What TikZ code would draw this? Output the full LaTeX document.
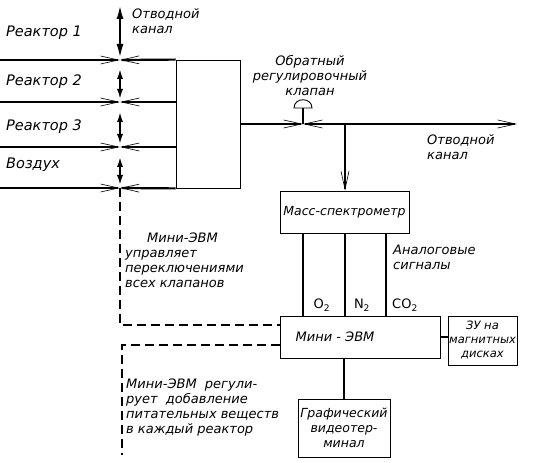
\documentclass[tikz,border=0pt]{standalone}
\usepackage{fontspec}
\setmainfont{DejaVu Sans}
\usetikzlibrary{positioning}
\usetikzlibrary{arrows.meta}
\usetikzlibrary{calc}

\begin{document}
\begin{tikzpicture}[x=1pt, y=-1pt,
    block/.style={rectangle, draw=black, fill=white, line width=0.8pt, inner sep=0pt, align=center,
        font=\itshape\fontsize{12.5}{15}\selectfont},
    txt/.style={inner sep=0pt, align=left, anchor=west, font=\itshape\fontsize{13}{15}\selectfont},
    gas/.style={inner sep=0pt, font=\fontsize{13}{15}\selectfont},
    pipe/.style={line width=2.2pt},
    feed/.style={pipe, -{Straight Barb[length=18pt, width=8pt, line width=0.6pt]}},
    swap/.style={pipe, {Latex[length=11pt, width=6pt]}-{Latex[length=11pt, width=6pt]}},
    ctrl/.style={line width=1.4pt, dash pattern=on 9pt off 5pt},
]
    \useasboundingbox (0,0) rectangle (534,462);

    % mixing unit and reactor lines
    \node[block, minimum width=64pt, minimum height=128pt] (mix) at (208,124) {};

    \coordinate (J1) at (120,60);
    \coordinate (J2) at (120,102);
    \coordinate (J3) at (120,147);
    \coordinate (J4) at (120,188);
    \coordinate (vent) at (120,5);

    \draw[feed] (0,60) -- (J1);
    \draw[feed] (0,102) -- (J2);
    \draw[feed] (0,147) -- (J3);
    \draw[feed] (0,188) -- (J4);

    \draw[feed] (mix.north west) -- (J1);
    \draw[feed] (mix.west |- J2) -- (J2);
    \draw[feed] (mix.west |- J3) -- (J3);
    \draw[feed] (mix.south west) -- (J4);

    \draw[swap, shorten <=2pt, {Latex[length=14pt, width=7pt]}-{Latex[length=14pt, width=7pt]}] (J1) -- (vent);
    \draw[swap, shorten <=8pt, shorten >=2pt] (J1) -- (J2);
    \draw[swap, shorten <=9pt, shorten >=2pt] (J2) -- (J3);
    \draw[swap, shorten <=9pt, shorten >=2pt] (J3) -- (J4);

    \node[txt, font=\itshape\fontsize{14.5}{15}\selectfont] (R1) at (6,33) {Реактор 1};
    \node[txt, font=\itshape\fontsize{14.5}{15}\selectfont] (R2) at (6,82) {Реактор 2};
    \node[txt, font=\itshape\fontsize{14.5}{15}\selectfont] (R3) at (6,127) {Реактор 3};
    \node[txt, font=\itshape\fontsize{14.5}{15}\selectfont] (R4) at (6,165) {Воздух};
    \node[txt] (ventlbl) at (132,21) {Отводной\\канал};

    % outlet with valve
    \coordinate (V) at (303,124);
    \coordinate (Vtop) at (303,108);
    \coordinate (T) at (345,124);
    \coordinate (out) at (517,124);

    \draw[feed] (mix.east) -- (V);
    \draw[pipe, {Straight Barb[length=18pt, width=8pt, line width=0.6pt]}-{Straight Barb[length=18pt, width=8pt, line width=0.6pt]}] (V) -- (out);
    \draw[line width=1.4pt] (V) -- (Vtop);
    \draw[line width=0.9pt] (294,108) .. controls (294,97) and (312,97) .. (312,108) -- cycle;
    \node[txt, anchor=center, align=center] (valvelbl) at (310,76) {Обратный\\регулировочный\\клапан};
    \node[txt] (outlbl) at (427,147) {Отводной\\канал};

    % analysis
    \node[block, minimum width=129pt, minimum height=42pt] (ms) at (344.5,212) {Масс-спектрометр};
    \draw[feed] (T) -- (T |- ms.north);

    \node[block, minimum width=160pt, minimum height=42pt] (evm) at (360,337) {};
    \node[txt, anchor=center] (evmlbl) at (335,337) {Мини - ЭВМ};

    \foreach \x in {303,345,386}
        \draw[pipe] (ms.south -| \x,0) -- (evm.north -| \x,0);

    \node[gas] (O2) at (322,305) {O\textsubscript{2}};
    \node[gas] (N2) at (362,305) {N\textsubscript{2}};
    \node[gas] (CO2) at (405,305) {CO\textsubscript{2}};
    \node[txt] (analog) at (393,257) {Аналоговые\\сигналы};

    \node[block, minimum width=69pt, minimum height=49pt, font=\itshape\fontsize{11.5}{14}\selectfont] (disk) at (482.5,340.5) {ЗУ на\\магнитных\\дисках};
    \draw[pipe] (evm.east) -- (disk.west |- evm.east);

    \node[block, minimum width=92pt, minimum height=58pt] (term) at (344,428) {Графический\\видеотер-\\минал};
    \draw[pipe] (term.north |- evm.south) -- (term.north);

    % control lines
    \coordinate (d1) at (120,325);
    \coordinate (d2) at (122,345);
    \coordinate (d3) at (122,455);
    \draw[ctrl] (J4) -- (d1) -- (evm.west |- d1);
    \draw[ctrl] (evm.west |- d2) -- (d2) -- (d3);

    \node[txt] (note1) at (125,260) {\hspace{22pt}Мини-ЭВМ\\управляет\\переключениями\\всех клапанов};
    \node[txt] (note2) at (126,408) {Мини-ЭВМ \ регули-\\рует \ добавление\\питательных веществ\\в каждый реактор};
\end{tikzpicture}
\end{document}
